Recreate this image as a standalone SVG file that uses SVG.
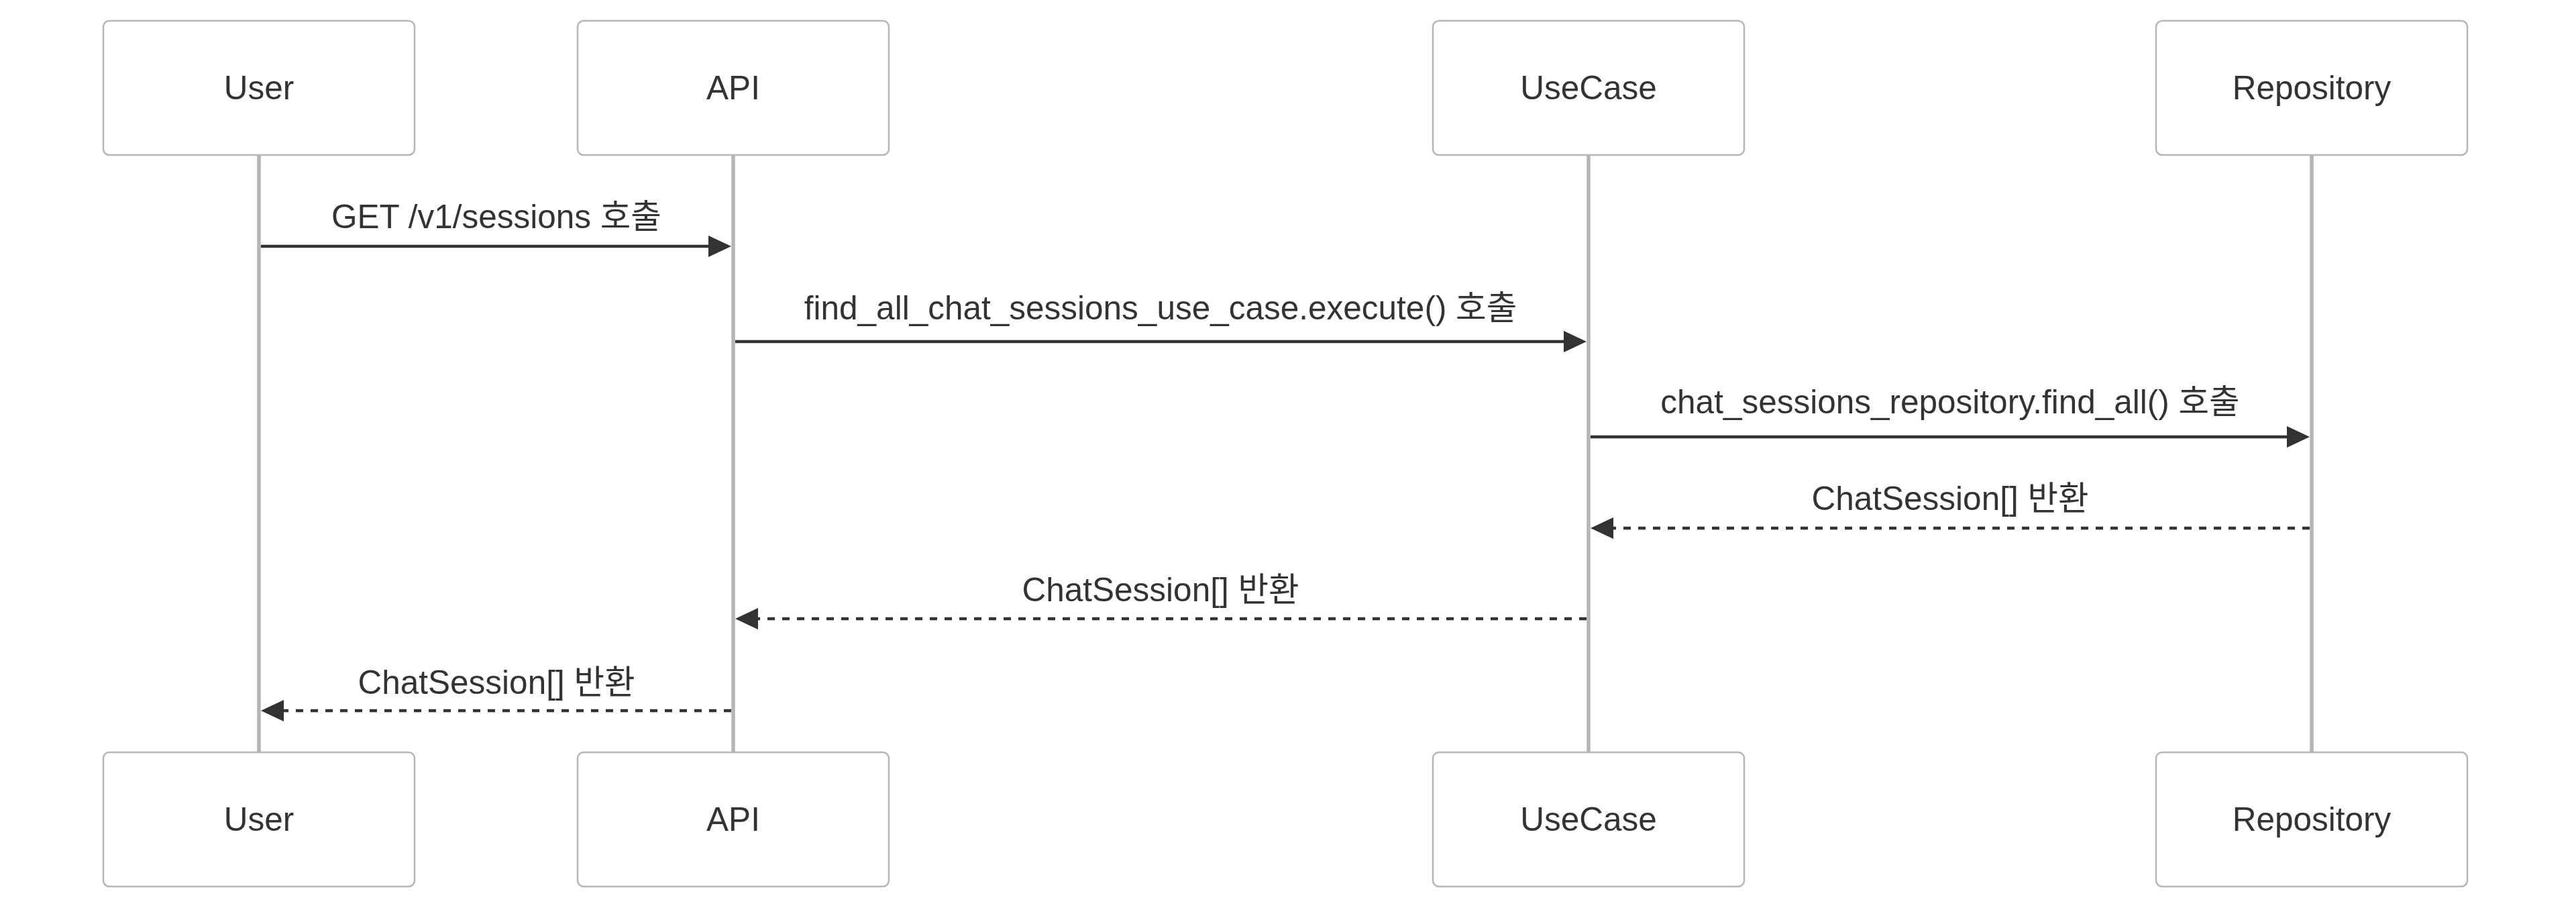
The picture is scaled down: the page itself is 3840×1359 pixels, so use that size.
<svg xmlns="http://www.w3.org/2000/svg" width="3840" height="1359" viewBox="0 0 3840 1359">
<style>
.actor{fill:#ffffff;stroke:#b5b5b5;stroke-width:2.5}
.life{stroke:#b5b5b5;stroke-width:5.5}
.atext{font-family:"Liberation Sans",Arial,"Noto Sans CJK KR",sans-serif;font-size:49.5px;fill:#333333;text-anchor:middle}
.mtext{font-family:"Liberation Sans",Arial,"Noto Sans CJK KR",sans-serif;font-size:49.5px;fill:#333333;text-anchor:middle}
.msg{stroke:#333333;stroke-width:4.6;fill:none}
.dash{stroke-dasharray:11,11}
</style>
<defs>
<marker id="ah" markerUnits="userSpaceOnUse" markerWidth="34" markerHeight="32" viewBox="0 0 10 10" refX="7.94" refY="5" orient="auto" preserveAspectRatio="none">
<path d="M0,0 L10,5 L0,10 z" fill="#333333" stroke="none"/>
</marker>
</defs>
<rect width="3840" height="1359" fill="#ffffff"/>
<g id="lifelines">
<line class="life" x1="386" y1="231" x2="386" y2="1120"/>
<line class="life" x1="1093" y1="231" x2="1093" y2="1120"/>
<line class="life" x1="2368" y1="231" x2="2368" y2="1120"/>
<line class="life" x1="3446" y1="231" x2="3446" y2="1120"/>
</g>
<g id="user">
<rect class="actor" x="154" y="31" width="464" height="200" rx="9"/>
<text class="atext" x="386" y="148">User</text>
<rect class="actor" x="154" y="1121" width="464" height="200" rx="9"/>
<text class="atext" x="386" y="1238">User</text>
</g>
<g id="api">
<rect class="actor" x="861" y="31" width="464" height="200" rx="9"/>
<text class="atext" x="1093" y="148">API</text>
<rect class="actor" x="861" y="1121" width="464" height="200" rx="9"/>
<text class="atext" x="1093" y="1238">API</text>
</g>
<g id="usecase">
<rect class="actor" x="2136" y="31" width="464" height="200" rx="9"/>
<text class="atext" x="2368" y="148">UseCase</text>
<rect class="actor" x="2136" y="1121" width="464" height="200" rx="9"/>
<text class="atext" x="2368" y="1238">UseCase</text>
</g>
<g id="repository">
<rect class="actor" x="3214" y="31" width="464" height="200" rx="9"/>
<text class="atext" x="3446" y="148">Repository</text>
<rect class="actor" x="3214" y="1121" width="464" height="200" rx="9"/>
<text class="atext" x="3446" y="1238">Repository</text>
</g>
<g id="connectors">
<line class="msg" x1="389" y1="367" x2="1083" y2="367" marker-end="url(#ah)"/>
<text class="mtext" x="740" y="340">GET /v1/sessions 호출</text>
<line class="msg" x1="1096" y1="509" x2="2358" y2="509" marker-end="url(#ah)"/>
<text class="mtext" x="1730" y="476">find_all_chat_sessions_use_case.execute() 호출</text>
<line class="msg" x1="2371" y1="651" x2="3436" y2="651" marker-end="url(#ah)"/>
<text class="mtext" x="2907" y="616">chat_sessions_repository.find_all() 호출</text>
<line class="msg dash" x1="3443" y1="787" x2="2378" y2="787" marker-end="url(#ah)"/>
<text class="mtext" x="2907" y="760">ChatSession[] 반환</text>
<line class="msg dash" x1="2365" y1="922" x2="1103" y2="922" marker-end="url(#ah)"/>
<text class="mtext" x="1730" y="896">ChatSession[] 반환</text>
<line class="msg dash" x1="1090" y1="1059" x2="396" y2="1059" marker-end="url(#ah)"/>
<text class="mtext" x="740" y="1034">ChatSession[] 반환</text>
</g>
</svg>
